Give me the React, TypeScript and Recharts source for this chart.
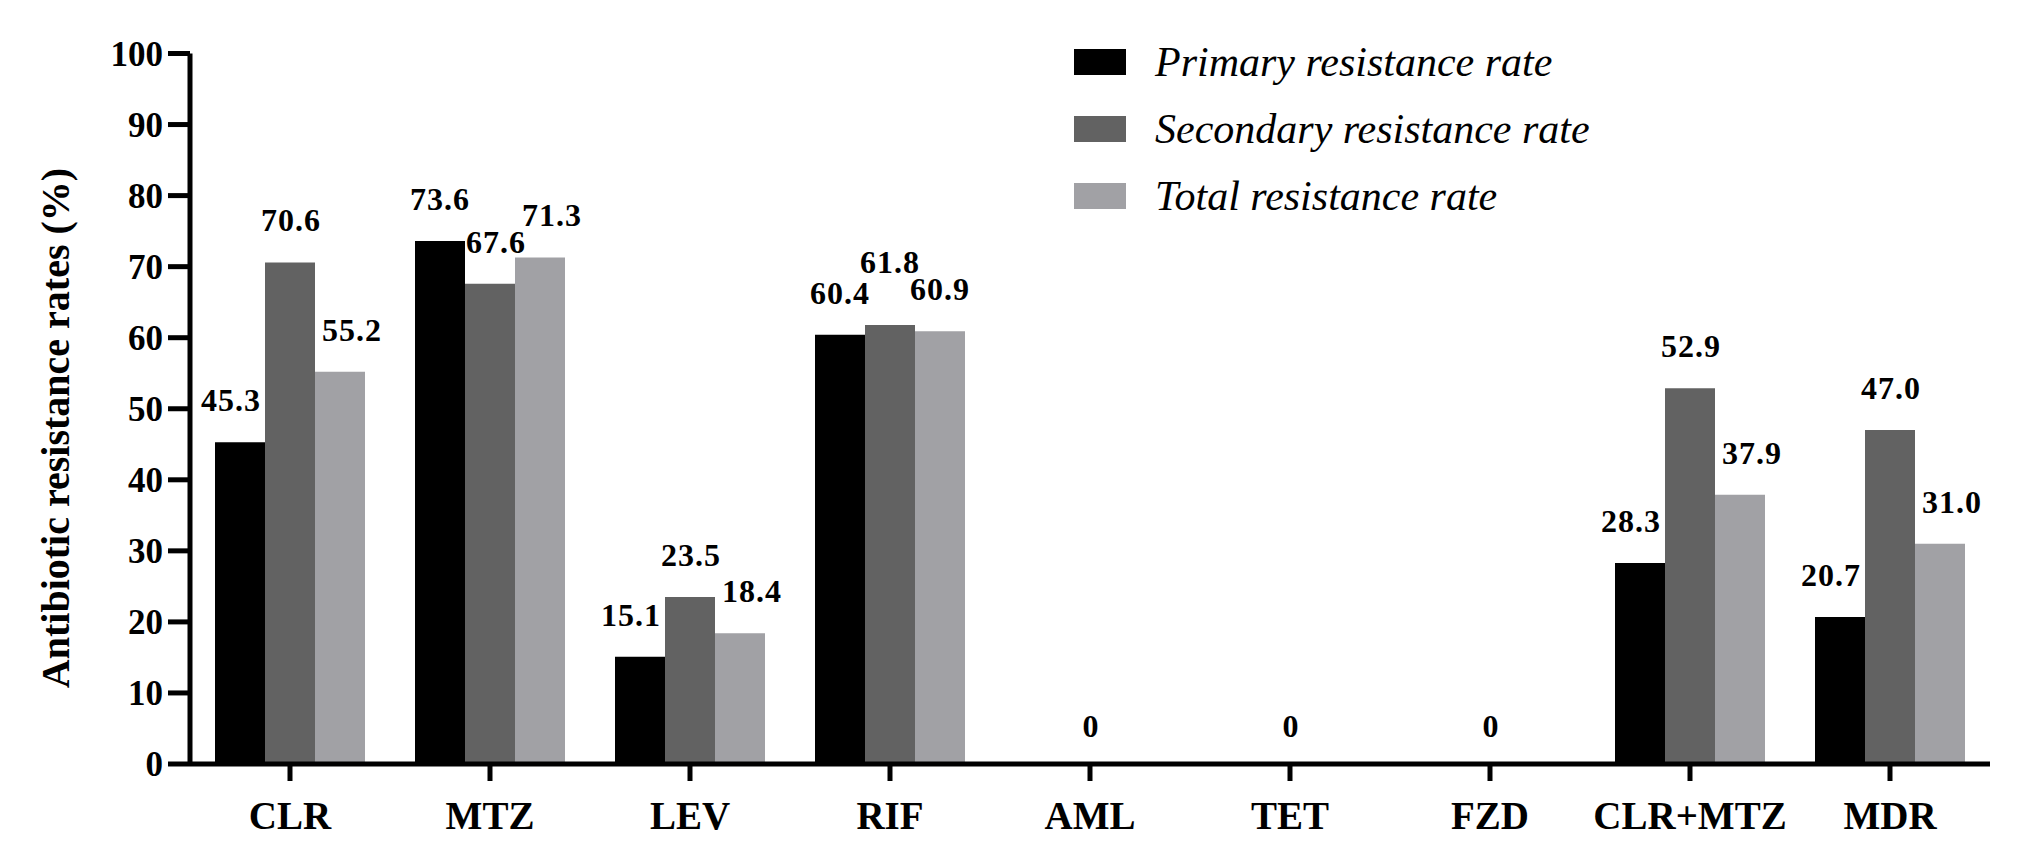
import React from 'react';
import { BarChart, Bar, XAxis, YAxis, LabelList, Label } from 'recharts';

const categories = ['CLR', 'MTZ', 'LEV', 'RIF', 'AML', 'TET', 'FZD', 'CLR+MTZ', 'MDR'];
const primaryRate = [45.3, 73.6, 15.1, 60.4, 0, 0, 0, 28.3, 20.7];
const secondaryRate = [70.6, 67.6, 23.5, 61.8, 0, 0, 0, 52.9, 47.0];
const totalRate = [55.2, 71.3, 18.4, 60.9, 0, 0, 0, 37.9, 31.0];
const yTicks = [0, 10, 20, 30, 40, 50, 60, 70, 80, 90, 100];
const seriesNames = ['Primary resistance rate', 'Secondary resistance rate', 'Total resistance rate'];
const seriesKeys = ['primary', 'secondary', 'total'];
const seriesColors = ['#000000', '#626262', '#a1a1a5'];

const data = categories.map((c, i) => ({
  category: c,
  primary: primaryRate[i],
  secondary: secondaryRate[i],
  total: totalRate[i],
}));

const FONT = '"Liberation Serif", "Times New Roman", serif';

const defaultDx = [-9, 1, 12];
const labelDxOverride: Record<string, number[]> = { MTZ: [0, 6, 12], RIF: [0, 0, 0] };
const labelLiftOverride: Record<string, number[]> = { RIF: [0, 21, 0] };

function makeValueLabel(s: number) {
  return (props: any) => {
    const { x, y, width, value, index } = props;
    const v = Number(value);
    if (v === 0 && s !== 1) return null;
    const cat = categories[index];
    const dx = (labelDxOverride[cat] ?? defaultDx)[s];
    const lift = (labelLiftOverride[cat] ?? [0, 0, 0])[s];
    const gap = v === 0 ? 26 : 31;
    return (
      <text
        x={Number(x) + Number(width) / 2 + dx}
        y={Number(y) - gap - lift}
        textAnchor="middle"
        fontFamily={FONT}
        fontWeight="bold"
        fontSize={32}
        letterSpacing={1}
        fill="#000"
      >
        {v === 0 ? '0' : v.toFixed(1)}
      </text>
    );
  };
}

const ChartLegend = () => (
  <div style={{ position: 'absolute', left: 1066, top: 41, fontFamily: FONT }}>
    {seriesNames.map((n, i) => (
      <div
        key={n}
        style={{ display: 'flex', alignItems: 'center', height: 26, marginBottom: i < 2 ? 41 : 0 }}
      >
        <div style={{ width: 52, height: 26, background: seriesColors[i] }} />
        <span
          style={{
            marginLeft: 29,
            fontSize: 42,
            fontStyle: 'italic',
            lineHeight: '40px',
            whiteSpace: 'nowrap',
            color: '#000',
          }}
        >
          {n}
        </span>
      </div>
    ))}
  </div>
);

const YTitle = () => (
  <text
    x={61}
    y={420}
    transform="rotate(-90 61 420)"
    textAnchor="middle"
    fontFamily={FONT}
    fontWeight="bold"
    fontSize={40}
    fill="#000"
  >
    Antibiotic resistance rates (%)
  </text>
);

export default function App() {
  return (
    <div style={{ position: 'relative', width: 2011, height: 851, background: '#fff' }}>
      <BarChart
        width={2011}
        height={851}
        data={data}
        margin={{ top: 45.5, right: 29, bottom: 0, left: 0 }}
        barCategoryGap="12.5%"
        barGap={0}
      >
        <XAxis
          dataKey="category"
          height={95}
          interval={0}
          tickSize={17}
          tickMargin={20}
          axisLine={{ stroke: '#000', strokeWidth: 5 }}
          tickLine={{ stroke: '#000', strokeWidth: 5 }}
          tick={{ fontFamily: FONT, fontWeight: 'bold', fontSize: 39, fill: '#000' }}
        />
        <YAxis
          width={182}
          domain={[0, 100]}
          ticks={yTicks}
          interval={0}
          tickSize={22}
          tickMargin={5}
          axisLine={{ stroke: '#000', strokeWidth: 5 }}
          tickLine={{ stroke: '#000', strokeWidth: 5 }}
          tick={{ fontFamily: FONT, fontWeight: 'bold', fontSize: 35, fill: '#000' }}
        >
          <Label content={YTitle} />
        </YAxis>
        {seriesKeys.map((k, s) => (
          <Bar
            key={k}
            dataKey={k}
            name={seriesNames[s]}
            fill={seriesColors[s]}
            minPointSize={s === 1 ? 1 : 0}
            isAnimationActive={false}
          >
            <LabelList dataKey={k} content={makeValueLabel(s)} />
          </Bar>
        ))}
      </BarChart>
      <ChartLegend />
    </div>
  );
}
